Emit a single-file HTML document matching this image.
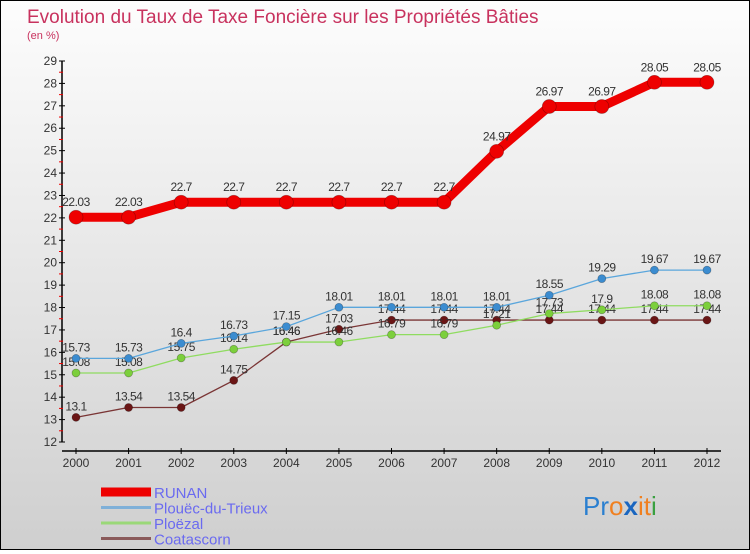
<!DOCTYPE html>
<html><head><meta charset="utf-8"><style>
html,body{margin:0;padding:0}
body{width:750px;height:550px;overflow:hidden;font-family:"Liberation Sans",sans-serif}
#wrap{position:relative;width:748px;height:548px;border:1px solid #000;background:linear-gradient(#fdfdfd,#cfcfcf)}
</style></head><body>
<div id="wrap">
<svg id="chart" width="748" height="548" xmlns="http://www.w3.org/2000/svg">
<text x="26" y="22" font-size="19" fill="#c8325e">Evolution du Taux de Taxe Foncière sur les Propriétés Bâties</text>
<text x="26" y="38" font-size="11" fill="#c8325e">(en %)</text>
<g id="axes"></g><g id="series"></g><g id="legend"></g>
<text x="582" y="514" font-size="26" font-family="Liberation Sans, sans-serif"><tspan fill="#2a7fd0">Pr</tspan><tspan fill="#f08020">o</tspan><tspan fill="#1a66c0" font-weight="bold">x</tspan><tspan fill="#f08020">it</tspan><tspan fill="#3aa040">i</tspan></text>
</svg>
</div>
<script>
const years=["2000","2001","2002","2003","2004","2005","2006","2007","2008","2009","2010","2011","2012"];
const yTicks=[12,13,14,15,16,17,18,19,20,21,22,23,24,25,26,27,28,29];
const runan=[22.03,22.03,22.7,22.7,22.7,22.7,22.7,22.7,24.97,26.97,26.97,28.05,28.05];
const plouec=[15.73,15.73,16.4,16.73,17.15,18.01,18.01,18.01,18.01,18.55,19.29,19.67,19.67];
const ploezal=[15.08,15.08,15.75,16.14,16.46,16.46,16.79,16.79,17.21,17.73,17.9,18.08,18.08];
const coatascorn=[13.1,13.54,13.54,14.75,16.46,17.03,17.44,17.44,17.44,17.44,17.44,17.44,17.44];
const NS="http://www.w3.org/2000/svg";
const x=i=>75+i*(631/12);
const y=v=>441-(v-12)*(381/17);
function mk(tag,attrs,parent){const e=document.createElementNS(NS,tag);for(const k in attrs)e.setAttribute(k,attrs[k]);parent.appendChild(e);return e;}
const axes=document.getElementById('axes');
const ya=mk('line',{x1:61,y1:y(29),x2:61,y2:y(12),stroke:'#000','stroke-width':1.5},axes);


const xa=mk('line',{x1:61,y1:450,x2:720,y2:450,stroke:'#000','stroke-width':1.5},axes);


yTicks.forEach(t=>{
  mk('line',{x1:58,y1:y(t),x2:64,y2:y(t),stroke:'#000'},axes);
  if(t<29) mk('line',{x1:58,y1:y(t+0.5),x2:62,y2:y(t+0.5),stroke:'#e00'},axes);
  const tx=mk('text',{x:56,y:y(t)+4,'font-size':12,fill:'#333','text-anchor':'end'},axes);
  tx.textContent=t;
  
  
});
years.forEach((yr,i)=>{
  mk('line',{x1:x(i),y1:447,x2:x(i),y2:453,stroke:'#000'},axes);
  const tx=mk('text',{x:x(i),y:466,'font-size':12,fill:'#333','text-anchor':'middle'},axes);
  tx.textContent=yr;
  
  
});
const ser=document.getElementById('series');
const defs=[
 {name:'coatascorn',data:coatascorn,line:'#7a3535',dot:'#6a1515',w:1.3,r:4},
 {name:'ploezal',data:ploezal,line:'#8fdc60',dot:'#7ccf3c',w:1.3,r:4},
 {name:'plouec',data:plouec,line:'#5aa6dc',dot:'#3b8cd0',w:1.3,r:4},
 {name:'runan',data:runan,line:'#ee0000',dot:'#ee0000',w:9,r:7}
];
defs.forEach(s=>{
  const g=mk('g',{},ser);
  
  
  const pl=mk('polyline',{points:s.data.map((v,i)=>x(i)+','+y(v)).join(' '),fill:'none',stroke:s.line,'stroke-width':s.w,'stroke-linejoin':'round'},g);
  
  
  s.data.forEach((v,i)=>{
    const c=mk('circle',{cx:x(i),cy:y(v),r:s.r,fill:s.dot,stroke:'rgba(0,0,0,0.3)','stroke-width':0.7},g);
    
    
    const t=mk('text',{x:x(i),y:y(v)-(s.name==='runan'?11:7),'font-size':12,fill:'#333','text-anchor':'middle','letter-spacing':'-0.5'},g);
    t.textContent=String(v);
    
    
  });
});
const lg=document.getElementById('legend');
const items=[['RUNAN','#ee0000',9],['Plouëc-du-Trieux','#7fb0d8',3],['Ploëzal','#9ad878',3],['Coatascorn','#8a5a5a',3]];
items.forEach((it,k)=>{
  const yy=491+k*15.5;
  const l=mk('line',{x1:100,y1:yy,x2:150,y2:yy,stroke:it[1],'stroke-width':it[2]},lg);
  
  
  const t=mk('text',{x:153,y:yy+6,'font-size':15,fill:'#6a6af0'},lg);
  t.textContent=it[0];
  
  
});
</script>
</body></html>
